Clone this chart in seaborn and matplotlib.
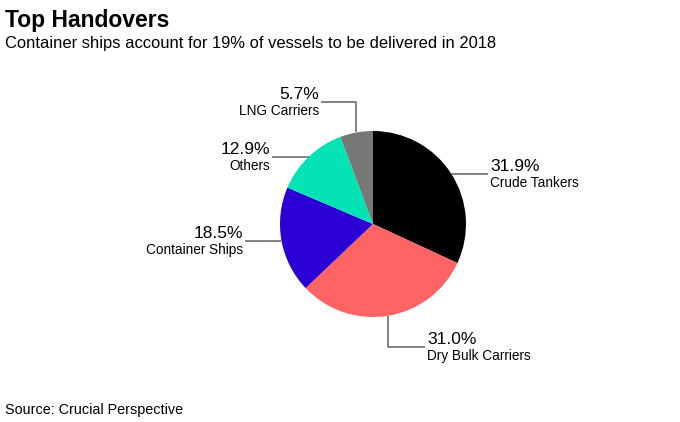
import numpy as np
import matplotlib
matplotlib.use("Agg")
import matplotlib.pyplot as plt
import seaborn as sns

# data
categories = ["Crude Tankers", "Dry Bulk Carriers", "Container Ships", "Others", "LNG Carriers"]
shares = [31.9, 31.0, 18.5, 12.9, 5.7]
palette = ["#000000", "#ff6464", "#2b00d4", "#03e3b4", "#777777"]

sns.set_theme(style="white")
plt.rcParams["font.family"] = ["Liberation Sans", "DejaVu Sans"]
plt.rcParams["text.color"] = "black"

W, H = 680, 422
fig = plt.figure(figsize=(W / 100, H / 100), dpi=100)
ax = fig.add_axes([0, 0, 1, 1])

cx, cy, r = 373, H - 224, 93
wedges, _ = ax.pie(shares, colors=palette, startangle=90, counterclock=False,
                   center=(cx, cy), radius=r, frame=True,
                   wedgeprops=dict(linewidth=0))
ax.set_xlim(0, W)
ax.set_ylim(0, H)
ax.set_aspect("equal")
ax.axis("off")

# leader routes: (vertical end y, horizontal end x, text side)
routes = {
    "Crude Tankers": (None, 488, "left"),
    "Dry Bulk Carriers": (H - 347, 425, "left"),
    "Container Ships": (None, 245, "right"),
    "Others": (None, 272, "right"),
    "LNG Carriers": (H - 102, 321, "right"),
}

for w, name, val in zip(wedges, categories, shares):
    mid = np.deg2rad((w.theta1 + w.theta2) / 2)
    x0 = cx + r * np.cos(mid)
    y0 = cy + r * np.sin(mid)
    yv, xend, side = routes[name]
    if yv is None:
        xs, ys = [x0, xend], [y0, y0]
        ylab = y0
    else:
        xs, ys = [x0, x0, xend], [y0, yv, yv]
        ylab = yv
    ax.plot(xs, ys, color="#777777", lw=1.3, solid_capstyle="butt")
    if side == "left":
        tx, ha = xend + 2, "left"
    else:
        tx, ha = xend - 2, "right"
    ax.text(tx, ylab + 3, f"{val:.1f}%", ha=ha, va="baseline", fontsize=12.5)
    ax.text(tx, ylab - 2, name, ha=ha, va="top", fontsize=9.8)

fig.text(5 / W, 1 - 27 / H, "Top Handovers", fontsize=16.5, fontweight="bold",
         ha="left", va="baseline")
fig.text(5 / W, 1 - 48 / H, "Container ships account for 19% of vessels to be delivered in 2018",
         fontsize=11.9, ha="left", va="baseline")
fig.text(5 / W, 1 - 414 / H, "Source: Crucial Perspective", fontsize=10.4,
         ha="left", va="baseline")

fig.savefig("out.png", dpi=100)
